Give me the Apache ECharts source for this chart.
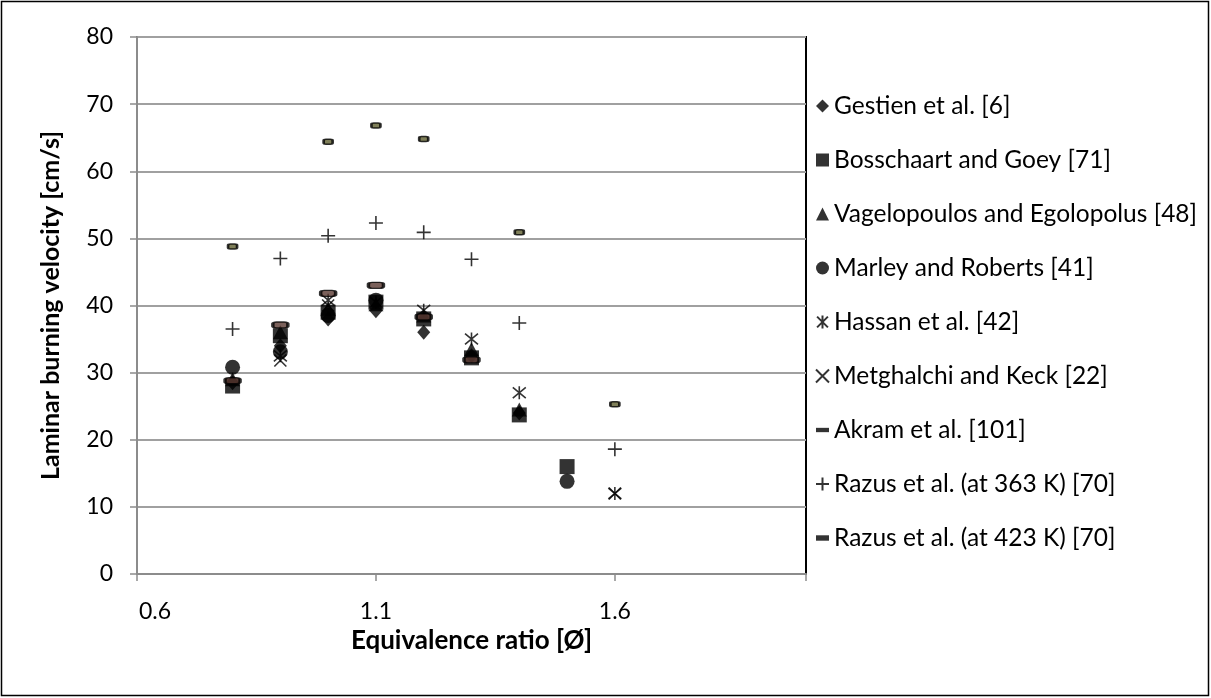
<!DOCTYPE html>
<html>
<head>
<meta charset="utf-8">
<script src="https://cdn.jsdelivr.net/npm/echarts@6/dist/echarts.min.js"></script>
<style>html,body{margin:0;padding:0;background:#fff}#c{width:1211px;height:698px}</style>
</head>
<body>
<div id="c"></div>
<script>
// Data: [equivalence ratio, laminar burning velocity cm/s]
const gestien      = [[0.8,28.5],[0.9,34.0],[1.0,38.0],[1.1,39.2],[1.2,36.0],[1.3,32.5],[1.4,24.0]];
const bosschaart   = [[0.8,28.0],[0.9,35.5],[1.0,39.0],[1.1,40.5],[1.2,38.0],[1.3,32.2],[1.4,23.7],[1.5,16.0]];
const vagelopoulos = [[0.8,29.0],[0.9,36.0],[1.0,39.5],[1.1,40.2],[1.2,38.5],[1.3,33.5],[1.4,24.5]];
const marley       = [[0.8,30.8],[0.9,33.1],[1.0,38.5],[1.1,40.8],[1.5,13.8]];
const hassan       = [[0.9,32.5],[1.0,40.8],[1.1,40.5],[1.2,39.3],[1.3,35.0],[1.4,27.0],[1.6,12.0]];
const metghalchi   = [[0.9,31.8],[1.0,40.0],[1.6,12.0]];
const akram        = [[0.8,28.8],[0.9,37.1],[1.0,41.8],[1.1,43.0],[1.2,38.3],[1.3,31.9]];
const razus363     = [[0.8,36.5],[0.9,47.0],[1.0,50.4],[1.1,52.3],[1.2,50.9],[1.3,46.9],[1.4,37.4],[1.6,18.6]];
const razus423     = [[0.8,48.8],[1.0,64.4],[1.1,66.8],[1.2,64.8],[1.4,50.9],[1.6,25.3]];

const names = ['Gestien et al. [6]','Bosschaart and Goey [71]','Vagelopoulos and Egolopolus [48]',
  'Marley and Roberts [41]','Hassan et al. [42]','Metghalchi and Keck [22]','Akram et al. [101]',
  'Razus et al. (at 363 K) [70]','Razus et al. (at 423 K) [70]'];
const xTicks = [0.6, 1.1, 1.6];
const yTicks = [0,10,20,30,40,50,60,70,80];

const FONT = 'Lato, "Open Sans", sans-serif';
const solid = {color:'#000'};
const line = {color:'rgba(0,0,0,0)', borderColor:'#000', borderWidth:1.6};
const P_AST = 'path://M-1,-1L1,1M-1,1L1,-1M0,-1.2L0,1.2';
const P_X = 'path://M-1,-1L1,1M-1,1L1,-1';
const P_PLUS = 'path://M0,-1L0,1M-1,0L1,0';

const series = [
  {name:names[0], data:gestien, symbol:'diamond', symbolSize:[13,15], itemStyle:solid},
  {name:names[1], data:bosschaart, symbol:'rect', symbolSize:15, itemStyle:solid},
  {name:names[2], data:vagelopoulos, symbol:'triangle', symbolSize:[15,14], itemStyle:solid},
  {name:names[3], data:marley, symbol:'circle', symbolSize:15, itemStyle:solid},
  {name:names[4], data:hassan, symbol:P_AST, symbolSize:13, itemStyle:line},
  {name:names[5], data:metghalchi, symbol:P_X, symbolSize:12, itemStyle:line},
  {name:names[6], data:akram, symbol:'roundRect', symbolSize:[15,6], itemStyle:{color:'#5a3a32', borderColor:'#000', borderWidth:2.2}},
  {name:names[7], data:razus363, symbol:P_PLUS, symbolSize:14, itemStyle:line},
  {name:names[8], data:razus423, symbol:'roundRect', symbolSize:[9,5], itemStyle:{color:'#5f5f30', borderColor:'#000', borderWidth:2}}
].map(s => Object.assign({type:'scatter', z:3}, s));

const legendIcons = ['diamond','rect','triangle','circle',P_AST,P_X,
  'path://M0,0h12v4h-12z', P_PLUS, 'path://M0,0h12v5h-12z'];
const legendStyles = [null,null,null,null,null,null,
  {color:'#000', borderWidth:0}, null, {color:'#000', borderWidth:0}];

const chart = echarts.init(document.getElementById('c'), null, {renderer:'canvas'});
chart.setOption({
  animation:false,
  backgroundColor:'#fff',
  graphic:[{type:'rect', shape:{x:1.5,y:1.5,width:1207,height:694}, style:{fill:'none', stroke:'#000', lineWidth:1.5}, z:-1}],
  grid:{left:137, top:37, right:405, bottom:124, show:true, borderColor:'#000', borderWidth:2},
  legend:{
    orient:'vertical', left:810, top:88, itemGap:28, itemWidth:13, itemHeight:13,
    data:names.map((n,i) => legendStyles[i] ? {name:n, icon:legendIcons[i], itemStyle:legendStyles[i]} : {name:n, icon:legendIcons[i]}),
    textStyle:{fontFamily:FONT, fontSize:24.5, color:'#000', lineHeight:26}
  },
  xAxis:{
    type:'value', min:0.6, max:2.0, interval:0.5,
    name:'Equivalence ratio [Ø]', nameLocation:'middle', nameGap:54,
    nameTextStyle:{fontFamily:FONT, fontSize:26, fontWeight:'bold', color:'#000'},
    axisLine:{show:true, lineStyle:{color:'#8c8c8c', width:2}},
    axisTick:{show:true, length:7, lineStyle:{color:'#8c8c8c', width:1.5}},
    axisLabel:{fontFamily:FONT, fontSize:23, color:'#000', margin:26,
      formatter: v => {
        if (Math.abs(v - xTicks[0]) < 1e-6) return '{first|' + v.toFixed(1) + '}';
        return xTicks.some(t => Math.abs(t - v) < 1e-6) ? v.toFixed(1) : '';
      },
      rich:{first:{fontFamily:FONT, fontSize:23, color:'#000', padding:[0,0,0,36]}}
    },
    splitLine:{show:false}
  },
  yAxis:{
    type:'value', min:0, max:80, interval:10,
    name:'Laminar burning velocity [cm/s]', nameLocation:'middle', nameGap:74, nameRotate:90,
    nameTextStyle:{fontFamily:FONT, fontSize:25, fontWeight:'bold', color:'#000'},
    axisLine:{show:true, lineStyle:{color:'#8c8c8c', width:2}},
    axisTick:{show:true, length:7, lineStyle:{color:'#8c8c8c', width:1.5}},
    axisLabel:{fontFamily:FONT, fontSize:23, color:'#000', margin:24,
      formatter: v => yTicks.includes(v) ? String(v) : ''},
    splitLine:{show:true, lineStyle:{color:'#a0a0a0', width:2}}
  },
  series: series
});
</script>
</body>
</html>
